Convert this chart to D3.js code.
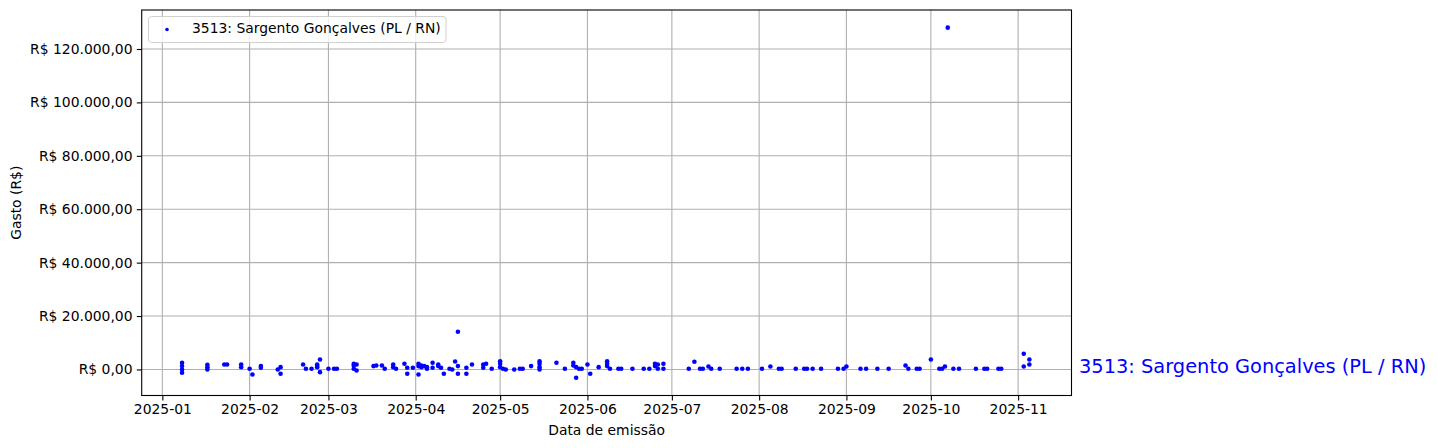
<!DOCTYPE html>
<html><head><meta charset="utf-8">
<script src="https://cdn.jsdelivr.net/npm/d3@7"></script>
<style>
html,body{margin:0;padding:0;background:#fff;}
text{font-family:"DejaVu Sans",sans-serif;}
</style></head>
<body><svg id="c" width="1438" height="448"></svg>
<script>
const seriesName = "3513: Sargento Gonçalves (PL / RN)";
const dates = [
 "2025-01-08","2025-01-08","2025-01-08","2025-01-08",
 "2025-01-17","2025-01-17","2025-01-17",
 "2025-01-23","2025-01-24","2025-01-29","2025-01-29","2025-02-01",
 "2025-02-02","2025-02-05","2025-02-05","2025-02-11","2025-02-12","2025-02-12",
 "2025-02-20","2025-02-21","2025-02-23","2025-02-25","2025-02-25","2025-02-25","2025-02-26","2025-02-26",
 "2025-03-01","2025-03-03","2025-03-04",
 "2025-03-10","2025-03-10","2025-03-10","2025-03-11","2025-03-11",
 "2025-03-17","2025-03-18","2025-03-20","2025-03-21","2025-03-24","2025-03-24","2025-03-25",
 "2025-03-28","2025-03-29","2025-03-29","2025-03-31",
 "2025-04-02","2025-04-02","2025-04-02","2025-04-03","2025-04-03","2025-04-04","2025-04-05","2025-04-05",
 "2025-04-07","2025-04-07","2025-04-09","2025-04-09","2025-04-10","2025-04-11","2025-04-13","2025-04-14",
 "2025-04-15","2025-04-16","2025-04-16","2025-04-16","2025-04-19","2025-04-19",
 "2025-04-21","2025-04-25","2025-04-25","2025-04-26","2025-04-28",
 "2025-05-01","2025-05-01","2025-05-01","2025-05-02","2025-05-03","2025-05-06","2025-05-08","2025-05-09",
 "2025-05-12","2025-05-15","2025-05-15","2025-05-15","2025-05-15",
 "2025-05-21","2025-05-24","2025-05-27","2025-05-27","2025-05-28","2025-05-28","2025-05-29","2025-05-30",
 "2025-06-01","2025-06-02","2025-06-05","2025-06-08","2025-06-08","2025-06-08","2025-06-09",
 "2025-06-12","2025-06-13","2025-06-17","2025-06-21","2025-06-23",
 "2025-06-25","2025-06-25","2025-06-26","2025-06-26","2025-06-28","2025-06-28",
 "2025-07-07","2025-07-09","2025-07-11","2025-07-12","2025-07-14","2025-07-15","2025-07-18",
 "2025-07-24","2025-07-26","2025-07-28",
 "2025-08-02","2025-08-05","2025-08-08","2025-08-09","2025-08-14","2025-08-17","2025-08-18","2025-08-20",
 "2025-08-23","2025-08-29","2025-08-31",
 "2025-09-01","2025-09-06","2025-09-08","2025-09-12","2025-09-16","2025-09-22","2025-09-23","2025-09-26","2025-09-27",
 "2025-10-01","2025-10-04","2025-10-05","2025-10-06","2025-10-07","2025-10-09","2025-10-11","2025-10-17",
 "2025-10-20","2025-10-21","2025-10-25","2025-10-26",
 "2025-11-03","2025-11-03","2025-11-05","2025-11-05"
];
const values = [
 2500,1250,0,-1250,
 1750,870,0,
 1870,1870,1870,870,250,
 -1870,1250,620,0,870,-1620,
 1870,250,250,1870,1250,870,3750,-1000,
 250,250,250,
 2130,1500,250,1870,-370,
 1250,1500,1500,250,1870,870,250,
 2130,-1620,620,620,
 2130,1250,-1870,1500,870,1250,870,250,
 2500,620,1870,1250,620,-1620,250,0,
 3000,14120,1250,-1620,620,-1620,
 1870,1870,620,2130,250,
 3100,2130,870,250,0,0,250,250,
 1250,3100,2130,870,0,
 2500,250,2500,1500,870,-3100,250,250,
 1870,-1620,870,3100,2130,1250,250,
 250,250,250,250,250,
 2130,1250,250,1870,2130,250,
 250,2880,250,250,1120,250,250,
 250,250,250,
 250,1120,250,250,250,250,250,250,
 250,250,250,
 1120,250,250,250,250,1500,250,250,250,
 3750,250,250,1120,128000,250,250,250,
 250,250,250,250,
 5870,1120,3750,1870
];
const yTicks = [0,20000,40000,60000,80000,100000,120000];
const xTickLabels = ["2025-01","2025-02","2025-03","2025-04","2025-05","2025-06","2025-07","2025-08","2025-09","2025-10","2025-11"];

const parse = d3.timeParse("%Y-%m-%d");
const pts = dates.map((d,i)=>({date:parse(d), value:values[i]}));

const svg = d3.select("#c");
const L=141.7, R=1071.5, T=10, B=395.5;
const FS = "13.9px";
const x = d3.scaleTime().domain([new Date(2024,11,24,16), new Date(2025,10,19,23)]).range([L,R]);
const y = d3.scaleLinear().domain([-9750,134600]).range([B,T]);

const fmtBR = v => "R$ " + d3.format(",.2f")(v).replace(/,/g,"#").replace(/\./g,",").replace(/#/g,".");
const xTicks = xTickLabels.map(s=>d3.timeParse("%Y-%m")(s));

const grid = svg.append("g");
grid.selectAll("line.vx").data(xTicks).join("line")
 .attr("x1",d=>x(d)).attr("x2",d=>x(d)).attr("y1",T).attr("y2",B)
 .attr("stroke","#b0b0b0").attr("stroke-width",1.1);
grid.selectAll("line.hy").data(yTicks).join("line")
 .attr("y1",d=>y(d)).attr("y2",d=>y(d)).attr("x1",L).attr("x2",R)
 .attr("stroke","#b0b0b0").attr("stroke-width",1.1);

svg.append("g").selectAll("circle").data(pts).join("circle")
 .attr("cx",d=>x(d.date)).attr("cy",d=>y(d.value)).attr("r",2.3).attr("fill","#0000ff");

const xAxis = d3.axisBottom(x).tickValues(xTicks).tickFormat(d3.timeFormat("%Y-%m")).tickSize(4.9).tickPadding(4);
const gx = svg.append("g").attr("transform",`translate(0,${B})`).call(xAxis);
const yAxis = d3.axisLeft(y).tickValues(yTicks).tickFormat(fmtBR).tickSize(4.9).tickPadding(4.3);
const gy = svg.append("g").attr("transform",`translate(${L},0)`).call(yAxis);
[gx,gy].forEach(g=>{
 g.select(".domain").remove();
 g.selectAll("line").attr("stroke","#000").attr("stroke-width",1.1);
 g.selectAll("text").attr("font-size",FS).attr("fill","#000").attr("font-family","DejaVu Sans");
});

svg.append("rect").attr("x",L).attr("y",T).attr("width",R-L).attr("height",B-T)
 .attr("fill","none").attr("stroke","#000").attr("stroke-width",1.1);

svg.append("text").attr("transform",`translate(21,${(T+B)/2}) rotate(-90)`).attr("text-anchor","middle")
 .attr("font-size",FS).text("Gasto (R$)");
svg.append("text").attr("x",(L+R)/2).attr("y",435).attr("text-anchor","middle")
 .attr("font-size",FS).text("Data de emissão");

const lg = svg.append("g");
lg.append("rect").attr("x",148.5).attr("y",16.5).attr("width",297.5).attr("height",26).attr("rx",3)
 .attr("fill","#fff").attr("fill-opacity",0.8).attr("stroke","#d0d0d0");
lg.append("circle").attr("cx",167).attr("cy",29.5).attr("r",1.8).attr("fill","#0000ff");
lg.append("text").attr("x",192).attr("y",33).attr("font-size",FS).text(seriesName);

svg.append("text").attr("x",1079).attr("y",372.5).attr("font-size","19.4px").attr("fill","#0000ff").text(seriesName);
</script></body></html>
